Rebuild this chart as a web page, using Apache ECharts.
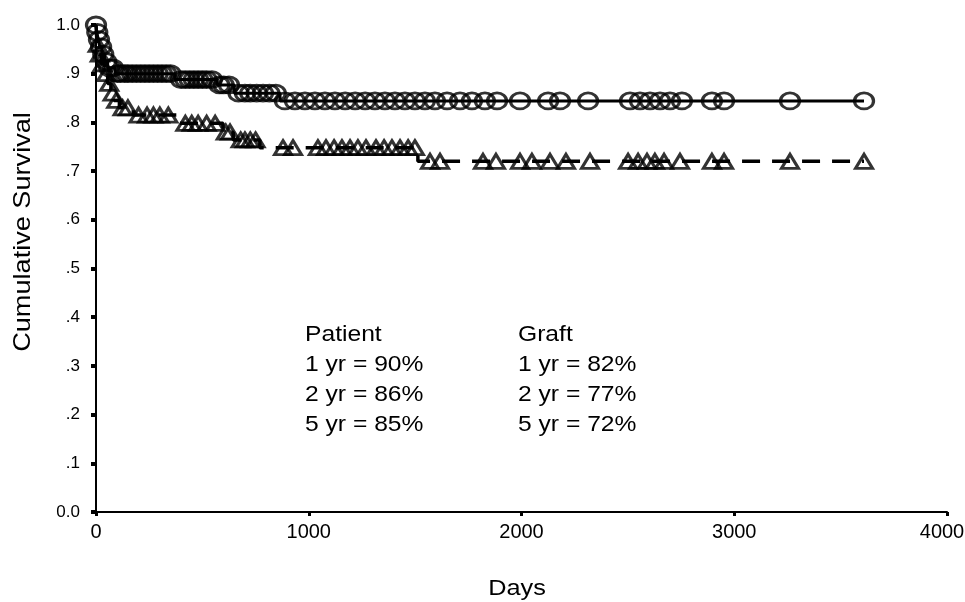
<!DOCTYPE html>
<html>
<head>
    <meta charset="utf-8">
    <title>Survival</title>
    <script src="https://cdn.jsdelivr.net/npm/echarts@6/dist/echarts.min.js"></script>
</head>
<body style="margin:0">
    <div id="main" style="width: 965px;height:602px;"></div>
    <script type="text/javascript">
        // step points of the two Kaplan-Meier curves (day, cumulative survival)
        var patientDays = [0, 4, 10, 18, 28, 40, 55, 90, 370, 570, 650, 865];
        var patientSurv = [1.0, 0.985, 0.97, 0.955, 0.94, 0.925, 0.912, 0.90, 0.888, 0.877, 0.86, 0.844];

        var graftDays = [0, 5, 12, 25, 40, 55, 70, 85, 110, 175, 395, 597, 645, 770, 1513];
        var graftSurv = [1.0, 0.96, 0.94, 0.92, 0.90, 0.88, 0.86, 0.845, 0.83, 0.815, 0.798, 0.78, 0.764, 0.748, 0.72];

        // censored cases (days)
        var patientCensor = [0, 6, 14, 24, 34, 48, 62, 80, 100, 115, 135, 150, 170, 190, 210, 230, 250, 270, 290,
            310, 330, 350, 400, 420, 440, 460, 480, 500, 520, 545, 580, 600, 625, 670, 700, 725, 755, 785, 815, 845,
            888, 935, 982, 1029, 1076, 1123, 1171, 1218, 1265, 1311, 1358, 1405, 1452, 1499, 1546, 1593, 1650, 1711,
            1767, 1828, 1885, 1993, 2125, 2181, 2313, 2510, 2557, 2604, 2651, 2698, 2754, 2895, 2952, 3262, 3610];
        var graftCensor = [8, 18, 30, 48, 62, 78, 95, 125, 150, 200, 240, 270, 300, 340, 420, 450, 480, 520, 560,
            610, 630, 680, 700, 725, 750, 879, 926, 1043, 1081, 1119, 1156, 1194, 1231, 1269, 1316, 1354, 1391, 1429,
            1467, 1499, 1570, 1617, 1819, 1880, 1993, 2049, 2134, 2209, 2322, 2501, 2548, 2590, 2627, 2670, 2745,
            2895, 2952, 3262, 3610];

        var yTickLabels = ['0.0', '.1', '.2', '.3', '.4', '.5', '.6', '.7', '.8', '.9', '1.0'];
        var patientNotes = ['Patient', '1 yr = 90%', '2 yr = 86%', '5 yr = 85%'];
        var graftNotes = ['Graft', '1 yr = 82%', '2 yr = 77%', '5 yr = 72%'];

        var FONT = '"Liberation Sans", Arial, sans-serif';

        function survAt(days, surv, t) {
            var s = surv[0];
            for (var i = 0; i < days.length; i++) {
                if (days[i] <= t) s = surv[i];
            }
            return s;
        }

        function curve(days, surv, censor) {
            var data = days.map(function (d, i) { return [d, surv[i]]; });
            var last = censor[censor.length - 1];
            data.push([last, surv[surv.length - 1]]);
            return data;
        }

        function marks(days, surv, censor) {
            return censor.map(function (t) { return [t, survAt(days, surv, t)]; });
        }

        var notes = [];
        var lineY = [335, 365, 395, 425];
        patientNotes.forEach(function (t, i) {
            notes.push({ type: 'text', x: 305, y: lineY[i], scaleX: 1.12,
                style: { text: t, font: '22px ' + FONT, fill: '#000', align: 'left', verticalAlign: 'middle' } });
        });
        graftNotes.forEach(function (t, i) {
            notes.push({ type: 'text', x: 518, y: lineY[i], scaleX: 1.12,
                style: { text: t, font: '22px ' + FONT, fill: '#000', align: 'left', verticalAlign: 'middle' } });
        });
        notes.push({ type: 'text', x: 23, y: 232, rotation: Math.PI / 2, scaleX: 1.13,
            style: { text: 'Cumulative Survival', font: '24px ' + FONT, fill: '#000', align: 'center', verticalAlign: 'middle' } });
        notes.push({ type: 'text', x: 517, y: 589, scaleX: 1.15,
            style: { text: 'Days', font: '22px ' + FONT, fill: '#000', align: 'center', verticalAlign: 'middle' } });

        var myChart = echarts.init(document.getElementById('main'));

        var option = {
            animation: false,
            backgroundColor: '#fff',
            grid: { left: 96, right: 18, top: 25, bottom: 90, outerBoundsMode: 'none' },
            xAxis: {
                type: 'value',
                min: 0,
                max: 4000,
                interval: 1000,
                axisLine: { lineStyle: { color: '#000', width: 2 } },
                axisTick: { length: 4, lineStyle: { color: '#000', width: 3 } },
                axisLabel: {
                    color: '#000', fontSize: 20, fontFamily: FONT, margin: 10,
                    // last label sits against the page edge, nudge it left
                    formatter: function (v) { return v === 4000 ? '{r|' + v + '}' : String(v); },
                    rich: { r: { color: '#000', fontSize: 20, fontFamily: FONT, padding: [0, 10, 0, 0] } }
                },
                splitLine: { show: false }
            },
            yAxis: {
                type: 'value',
                min: 0,
                max: 1,
                interval: 0.1,
                axisLine: { show: true, lineStyle: { color: '#000', width: 2 } },
                axisTick: { show: true, length: 5, lineStyle: { color: '#000', width: 4 } },
                axisLabel: {
                    color: '#000', fontSize: 17, fontFamily: FONT, margin: 16,
                    formatter: function (v) { return yTickLabels[Math.round(v * 10)]; }
                },
                splitLine: { show: false }
            },
            graphic: notes,
            series: [{
                name: 'Patient',
                type: 'line',
                step: 'end',
                showSymbol: false,
                data: curve(patientDays, patientSurv, patientCensor),
                lineStyle: { color: '#000', width: 3 }
            }, {
                name: 'Patient censored',
                type: 'scatter',
                symbol: 'circle',
                symbolSize: [19, 16],
                data: marks(patientDays, patientSurv, patientCensor),
                itemStyle: { color: 'rgba(0,0,0,0)', borderColor: '#000', borderWidth: 3 }
            }, {
                name: 'Graft',
                type: 'line',
                step: 'end',
                showSymbol: false,
                data: curve(graftDays, graftSurv, graftCensor),
                lineStyle: { color: '#000', width: 3.5, type: [18, 12] }
            }, {
                name: 'Graft censored',
                type: 'scatter',
                symbol: 'triangle',
                symbolSize: [17, 14],
                data: marks(graftDays, graftSurv, graftCensor),
                itemStyle: { color: 'rgba(0,0,0,0)', borderColor: '#000', borderWidth: 3 }
            }]
        };

        myChart.setOption(option);
    </script>
</body>
</html>
